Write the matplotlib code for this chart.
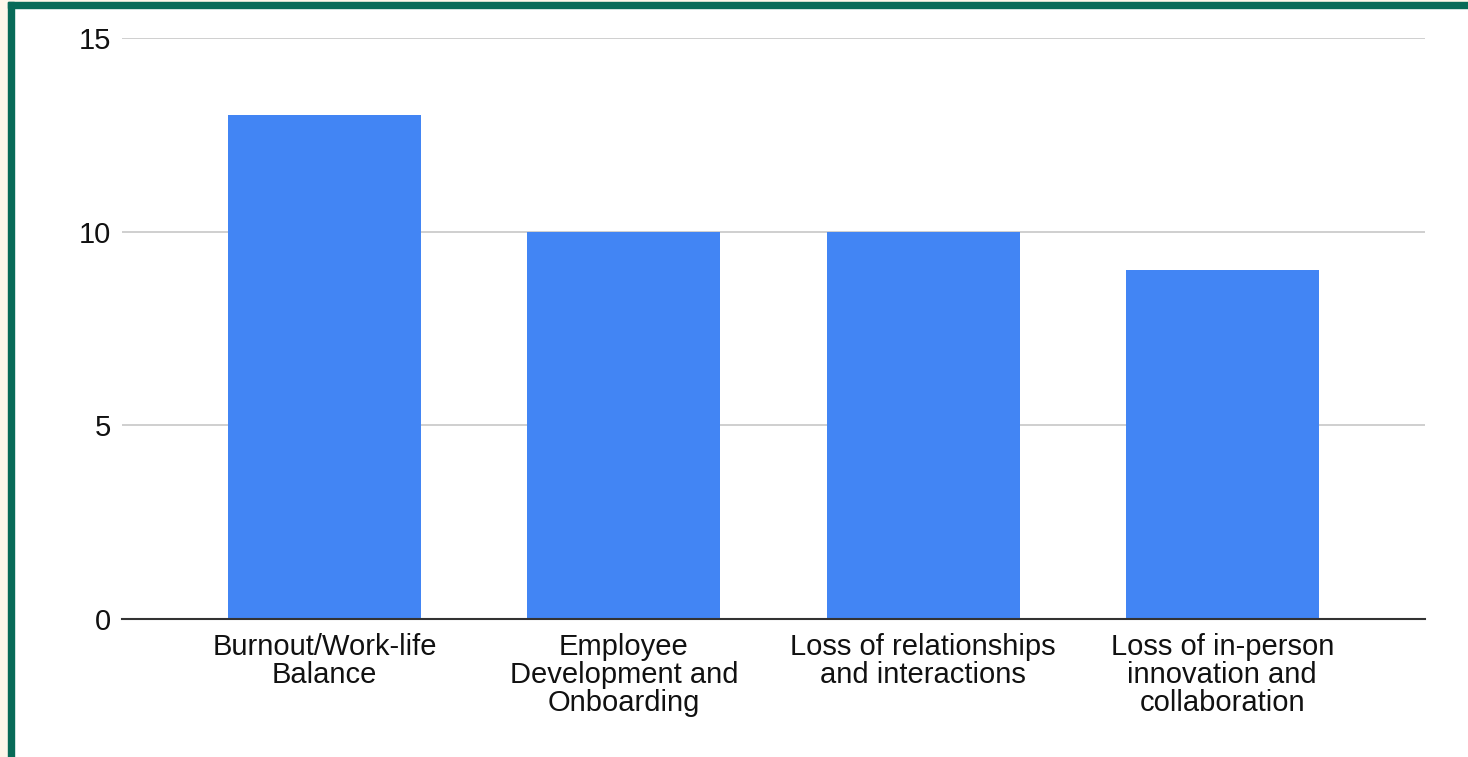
import matplotlib
matplotlib.use("Agg")
import matplotlib.pyplot as plt
from matplotlib.patches import Rectangle

categories = ["Burnout/Work-life\nBalance",
              "Employee\nDevelopment and\nOnboarding",
              "Loss of relationships\nand interactions",
              "Loss of in-person\ninnovation and\ncollaboration"]
values = [13, 10, 10, 9]
yticks = [0, 5, 10, 15]

W, H = 1468, 757
fig = plt.figure(figsize=(W/100, H/100), dpi=100)
fig.patch.set_facecolor("white")

# cream margin + green border
fig.patches.append(Rectangle((0, 0), 8/W, 1, transform=fig.transFigure, color="#fdf7ea", zorder=0))
fig.patches.append(Rectangle((0, 1-2/H), 1, 2/H, transform=fig.transFigure, color="#fdf7ea", zorder=0))
fig.patches.append(Rectangle((8/W, 0), 6/W, 1-2/H, transform=fig.transFigure, color="#086b58", zorder=1))
fig.patches.append(Rectangle((8/W, 1-8/H), 1-8/W, 6/H, transform=fig.transFigure, color="#086b58", zorder=1))

left, right = 122/W, 1425/W
top, bottom = 1-38/H, 1-619/H
ax = fig.add_axes([left, bottom, right-left, top-bottom])
x = range(len(categories))
ax.bar(x, values, width=0.645, color="#4285f4", zorder=3)
ax.set_xlim(-0.678, 3.678)
ax.set_ylim(0, 15)
ax.set_yticks(yticks)
ax.set_yticklabels([str(t) for t in yticks])
ax.set_xticks(list(x))
ax.set_xticklabels(categories, linespacing=1.0)
ax.grid(axis="y", color="#cccccc", linewidth=1.3, zorder=0)
for s in ["top", "right", "left"]:
    ax.spines[s].set_visible(False)
ax.spines["bottom"].set_color("#333333")
ax.spines["bottom"].set_linewidth(1.5)
ax.spines["bottom"].set_zorder(4)
ax.tick_params(axis="both", length=0, labelsize=21, colors="#111111")
ax.tick_params(axis="y", pad=8)
ax.tick_params(axis="x", pad=10)
for lab in ax.get_xticklabels() + ax.get_yticklabels():
    lab.set_fontfamily("Liberation Sans")
fig.savefig("out.png", dpi=100)
